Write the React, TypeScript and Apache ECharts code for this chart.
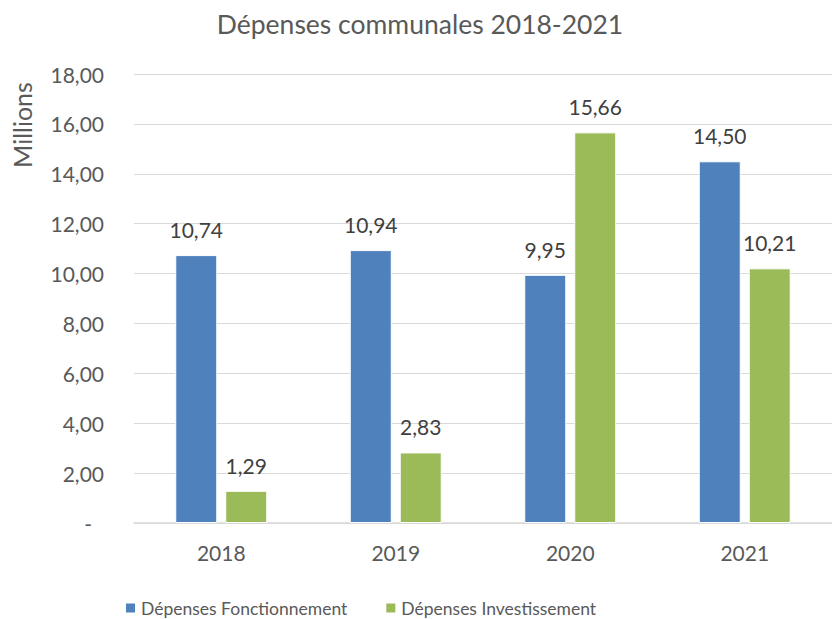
import React, { useEffect, useRef } from "react";
import * as echarts from "echarts";

const categories = ["2018", "2019", "2020", "2021"];
const fonctionnement = [10.74, 10.94, 9.95, 14.5];
const investissement = [1.29, 2.83, 15.66, 10.21];
const seriesNames = ["Dépenses Fonctionnement", "Dépenses Investissement"];
const titleText = "Dépenses communales 2018-2021";
const unitText = "Millions";

const FONT = "Lato";
const TXT = "#595959";
const NUM = 21;

const fmt = (v: number) => v.toFixed(2).replace(".", ",");

export default function App() {
  const ref = useRef<HTMLDivElement>(null);
  useEffect(() => {
    const chart = echarts.init(ref.current!, null, { renderer: "svg" });
    chart.setOption({
      animation: false,
      backgroundColor: "#ffffff",
      textStyle: { fontFamily: FONT, color: TXT },
      title: {
        text: titleText,
        left: 415,
        top: 5,
        textAlign: "center",
        textStyle: { fontFamily: FONT, color: TXT, fontSize: 26.5, fontWeight: "normal" },
      },
      graphic: [
        {
          type: "text",
          x: 22,
          y: 125,
          rotation: Math.PI / 2,
          style: {
            text: unitText,
            fontFamily: FONT,
            fontSize: 25,
            fill: TXT,
            align: "center",
            verticalAlign: "middle",
          },
        },
      ],
      legend: {
        bottom: 2,
        left: 124,
        padding: 0,
        itemWidth: 11,
        itemHeight: 11,
        itemGap: 37,
        icon: "rect",
        textStyle: { fontFamily: FONT, fontSize: 17.5, color: TXT },
        data: seriesNames,
      },
      grid: { left: 134, right: -10, top: 74, bottom: 96, containLabel: false },
      xAxis: {
        type: "category",
        data: categories,
        axisTick: { show: false },
        axisLine: { lineStyle: { color: "#d9d9d9", width: 1.5 } },
        axisLabel: { fontFamily: FONT, fontSize: NUM, color: TXT, margin: 19 },
      },
      yAxis: {
        type: "value",
        min: 0,
        max: 18,
        interval: 2,
        axisLine: { show: false },
        axisTick: { show: false },
        splitLine: { lineStyle: { color: "#d9d9d9", width: 1 } },
        axisLabel: {
          fontFamily: FONT,
          fontSize: NUM,
          color: TXT,
          margin: 30,
          formatter: (v: number) => (v === 0 ? "{z|-}" : fmt(v)),
          rich: {
            z: { fontFamily: FONT, fontSize: NUM, color: TXT, padding: [0, 12, 0, 0] },
          },
        },
      },
      series: [
        {
          name: seriesNames[0],
          type: "bar",
          data: fonctionnement,
          barWidth: 42,
          barGap: "19%",
          itemStyle: { color: "#4F81BD", borderColor: "#ffffff", borderWidth: 1 },
          label: {
            show: true,
            position: "top",
            distance: 15,
            fontFamily: FONT,
            fontSize: NUM,
            color: "#404040",
            formatter: (p: any) => fmt(p.value),
          },
        },
        {
          name: seriesNames[1],
          type: "bar",
          data: investissement,
          barWidth: 42,
          itemStyle: { color: "#9BBB59", borderColor: "#ffffff", borderWidth: 1 },
          label: {
            show: true,
            position: "top",
            distance: 15,
            fontFamily: FONT,
            fontSize: NUM,
            color: "#404040",
            formatter: (p: any) => fmt(p.value),
          },
        },
      ],
    });
    return () => chart.dispose();
  }, []);
  return (
    <div
      ref={ref}
      style={{ position: "fixed", left: 0, top: 0, width: 832, height: 619 }}
    />
  );
}
